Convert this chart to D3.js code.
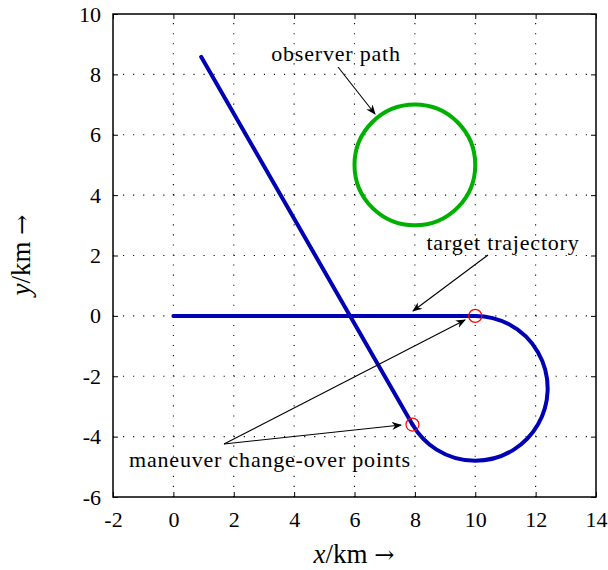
<!DOCTYPE html>
<html>
<head>
<meta charset="utf-8">
<script src="https://cdn.jsdelivr.net/npm/d3@7"></script>
<style>
  body { margin: 0; background: #fff; }
  text { font-family: "Liberation Serif", "Times New Roman", serif; fill: #000; }
</style>
</head>
<body>
<div id="chart"></div>
<script>
// ticks
var xTicks = [-2, 0, 2, 4, 6, 8, 10, 12, 14];
var yTicks = [-6, -4, -2, 0, 2, 4, 6, 8, 10];

// target trajectory: straight leg, turn, straight leg
var legA = [[0, 0], [10, 0]];
var turnCentre = [10, -2.4];
var turnRadius = 2.4;
var legB = [[7.92, -3.60], [0.92, 8.58]];
var changeOver = [[10, 0], [7.92, -3.60]];

// observer path
var observerCentre = [8, 5];
var observerRadius = 2;

var width = 608, height = 570;
var x = d3.scaleLinear().domain([-2, 14]).range([113, 596]);
var y = d3.scaleLinear().domain([-6, 10]).range([497, 14]);

var svg = d3.select("#chart").append("svg")
    .attr("width", width)
    .attr("height", height);

var defs = svg.append("defs");
defs.append("marker")
    .attr("id", "arrow")
    .attr("viewBox", "0 0 10 10")
    .attr("refX", 9).attr("refY", 5)
    .attr("markerWidth", 10).attr("markerHeight", 10)
    .attr("markerUnits", "userSpaceOnUse")
    .attr("orient", "auto")
    .append("path")
    .attr("d", "M0,1 L10,5 L0,9 L3,5 Z")
    .attr("fill", "#000");

// grid
var grid = svg.append("g").attr("stroke", "#000").attr("stroke-width", 1.1)
    .attr("stroke-dasharray", "1.1,8.96");
grid.selectAll("line.gx")
    .data(xTicks.slice(1, -1))
    .enter().append("line")
    .attr("x1", function(d) { return x(d); })
    .attr("x2", function(d) { return x(d); })
    .attr("y1", y(-6)).attr("y2", y(10));
grid.selectAll("line.gy")
    .data(yTicks.slice(1, -1))
    .enter().append("line")
    .attr("y1", function(d) { return y(d); })
    .attr("y2", function(d) { return y(d); })
    .attr("x1", x(-2)).attr("x2", x(14));

// axes, ticks pointing inward on all four sides
var fmt = function(d) { return String(d); };
svg.append("g").attr("transform", "translate(0," + y(-6) + ")")
    .call(d3.axisBottom(x).tickValues(xTicks).tickSize(-5).tickPadding(14).tickFormat(fmt))
    .call(g => g.select(".domain").remove());
svg.append("g").attr("transform", "translate(0," + y(10) + ")")
    .call(d3.axisTop(x).tickValues(xTicks).tickSize(-5).tickFormat(""))
    .call(g => g.select(".domain").remove());
svg.append("g").attr("transform", "translate(" + x(-2) + ",0)")
    .call(d3.axisLeft(y).tickValues(yTicks).tickSize(-5).tickPadding(12).tickFormat(fmt))
    .call(g => g.select(".domain").remove());
svg.append("g").attr("transform", "translate(" + x(14) + ",0)")
    .call(d3.axisRight(y).tickValues(yTicks).tickSize(-5).tickFormat(""))
    .call(g => g.select(".domain").remove());

svg.selectAll(".tick text")
    .attr("font-family", "Liberation Serif")
    .attr("font-size", 22);
svg.selectAll(".tick line").attr("stroke-width", 1);

svg.append("rect")
    .attr("x", x(-2)).attr("y", y(10))
    .attr("width", x(14) - x(-2)).attr("height", y(-6) - y(10))
    .attr("fill", "none").attr("stroke", "#000").attr("stroke-width", 1.5);

// observer path
svg.append("circle")
    .attr("cx", x(observerCentre[0])).attr("cy", y(observerCentre[1]))
    .attr("r", x(observerRadius) - x(0))
    .attr("fill", "none").attr("stroke", "#00b000").attr("stroke-width", 4);

// target trajectory
var line = d3.line().x(function(d) { return x(d[0]); }).y(function(d) { return y(d[1]); });
var rPx = x(turnRadius) - x(0);
var start = legA[1], end = legB[0];
var turnPath = "M" + x(start[0]) + "," + y(start[1]) +
    " A" + rPx + "," + rPx + " 0 1 1 " + x(end[0]) + "," + y(end[1]);

var traj = svg.append("g").attr("fill", "none").attr("stroke", "#0000b4")
    .attr("stroke-width", 4).attr("stroke-linecap", "round");
traj.append("path").attr("d", line(legA));
traj.append("path").attr("d", turnPath);
traj.append("path").attr("d", line(legB));

svg.selectAll("circle.co")
    .data(changeOver)
    .enter().append("circle")
    .attr("class", "co")
    .attr("cx", function(d) { return x(d[0]); })
    .attr("cy", function(d) { return y(d[1]); })
    .attr("r", 6.5)
    .attr("fill", "none").attr("stroke", "#ff0000").attr("stroke-width", 1.2);

// annotations
var notes = svg.append("g").attr("font-size", 22).attr("letter-spacing", 0.8)
    .attr("text-anchor", "middle");
notes.append("text").attr("x", 336).attr("y", 61).text("observer path");
notes.append("text").attr("x", 503).attr("y", 250).text("target trajectory");
notes.append("text").attr("x", 270).attr("y", 467).text("maneuver change-over points");

var arrows = [
  [[338, 67], [375, 114]],
  [[488, 255], [413, 311]],
  [[224, 444], [465, 320]],
  [[224, 444], [401, 425]]
];
svg.append("g").selectAll("line")
    .data(arrows)
    .enter().append("line")
    .attr("x1", function(d) { return d[0][0]; })
    .attr("y1", function(d) { return d[0][1]; })
    .attr("x2", function(d) { return d[1][0]; })
    .attr("y2", function(d) { return d[1][1]; })
    .attr("stroke", "#000").attr("stroke-width", 1.1)
    .attr("marker-end", "url(#arrow)");

// axis titles
var xt = svg.append("text").attr("x", 354).attr("y", 563).attr("text-anchor", "middle")
    .attr("font-size", 27);
xt.append("tspan").attr("font-style", "italic").text("x");
xt.append("tspan").text("/km ");
xt.append("tspan").attr("font-family", "DejaVu Serif").attr("font-size", 24).text("\u2192");

var yt = svg.append("text").attr("transform", "translate(30,255) rotate(-90)")
    .attr("text-anchor", "middle").attr("font-size", 27);
yt.append("tspan").attr("font-style", "italic").text("y");
yt.append("tspan").text("/km ");
yt.append("tspan").attr("font-family", "DejaVu Serif").attr("font-size", 24).text("\u2192");
</script>
</body>
</html>
